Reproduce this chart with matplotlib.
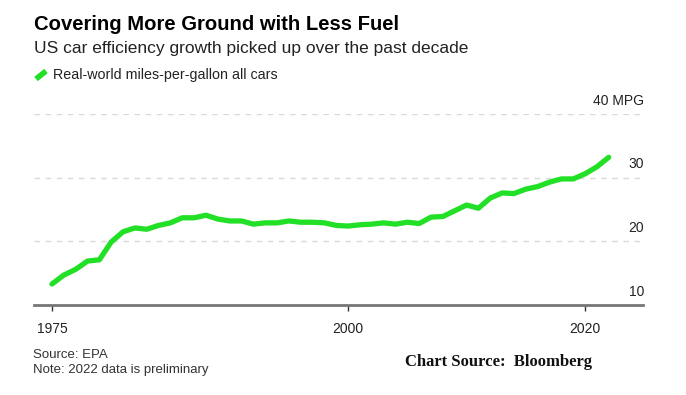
import numpy as np
import matplotlib
matplotlib.use("Agg")
import matplotlib.pyplot as plt
from matplotlib.lines import Line2D

# real-world mpg, all cars
years = list(range(1975, 2023))
mpg = [13.3, 14.7, 15.6, 16.9, 17.1, 19.9, 21.5, 22.1, 21.9, 22.5,
       22.9, 23.7, 23.7, 24.1, 23.5, 23.2, 23.2, 22.7, 22.9, 22.9,
       23.2, 23.0, 23.0, 22.9, 22.5, 22.4, 22.6, 22.7, 22.9, 22.7,
       23.0, 22.8, 23.8, 23.9, 24.8, 25.7, 25.2, 26.8, 27.6, 27.5,
       28.2, 28.6, 29.3, 29.8, 29.8, 30.6, 31.7, 33.2]

x_ticks = [1975, 2000, 2020]
y_ticks = [10, 20, 30, 40]
y_labels = ["10", "20", "30", "40 MPG"]

green = "#22e026"
W, H = 686, 395
plt.rcParams['font.family'] = ['Liberation Sans', 'DejaVu Sans']

fig = plt.figure(figsize=(W / 100, H / 100), dpi=100)
# axes box in pixel coords: x 34..643, y 114..305
ax = fig.add_axes([34 / W, (H - 305) / H, (643 - 34) / W, (305 - 114) / H])
ax.set_xlim(1975 - 18 / 11.85, 2000 + 295 / 11.85)
ax.set_ylim(10, 40)

for v in y_ticks[1:]:
    ax.axhline(v, color="#d9d9d9", lw=1, ls=(0, (4, 4)), zorder=1)

ax.plot(years, mpg, color=green, lw=3.8, solid_capstyle="round",
        solid_joinstyle="round", zorder=3)

for s in ["top", "right", "left"]:
    ax.spines[s].set_visible(False)
ax.spines["bottom"].set_color("#777777")
ax.spines["bottom"].set_linewidth(2)
ax.set_yticks([])
ax.set_xticks(x_ticks)
ax.set_xticklabels([str(t) for t in x_ticks], fontsize=10, color="#222222")
ax.tick_params(axis="x", length=4, width=1, color="#333333", pad=8)

for v, lab in zip(y_ticks, y_labels):
    ax.annotate(lab, xy=(1.002, v), xycoords=("axes fraction", "data"),
                xytext=(0, 9.5), textcoords="offset points",
                ha="right", va="center", fontsize=10, color="#222222")

fig.text(34 / W, 1 - 24 / H, "Covering More Ground with Less Fuel",
         fontsize=14.6, fontweight="bold", va="center", ha="left", color="#000000")
fig.text(34 / W, 1 - 49 / H, "US car efficiency growth picked up over the past decade",
         fontsize=12.5, va="center", ha="left", color="#222222")
fig.add_artist(Line2D([36 / W, 46 / W], [1 - 79 / H, 1 - 71 / H], color=green,
                      lw=4, solid_capstyle="butt"))
fig.text(53 / W, 1 - 75 / H, "Real-world miles-per-gallon all cars",
         fontsize=10.3, va="center", ha="left", color="#222222")

fig.text(33 / W, 1 - 355 / H, "Source: EPA", fontsize=9.5, va="center", color="#333333")
fig.text(33 / W, 1 - 370 / H, "Note: 2022 data is preliminary", fontsize=9.5,
         va="center", color="#333333")
fig.text(405 / W, 1 - 362 / H, "Chart Source:  Bloomberg", fontsize=12,
         fontweight="bold", family="Liberation Serif", va="center", color="#111111")

fig.savefig("out.png", dpi=100)
